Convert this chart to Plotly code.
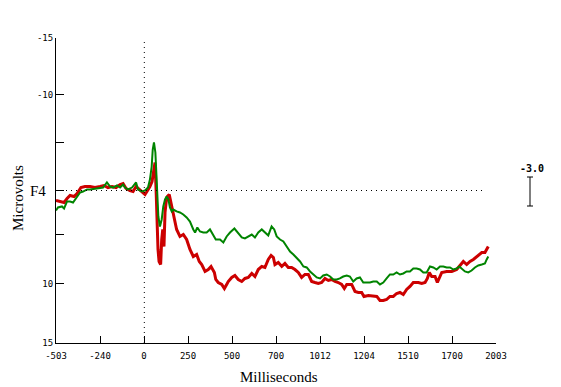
import plotly.graph_objects as go

# ---- data (ms, microvolts; positive is plotted downward) ----
red_ms = [-503, -480, -457, -440, -423, -400, -383, -361, -338, -309, -281, -252, -230, -207, -184, -161,
          -138, -121, -104, -82, -64, -47, -30, -13, 4, 15, 32, 44, 55, 61, 67, 72, 75, 78, 84, 93, 99,
          105, 112, 118, 124, 131, 142, 156, 165, 184, 203, 222, 241, 260, 279, 298, 313, 327, 346, 364,
          380, 399, 407, 421, 441, 456, 469, 478, 498, 516, 535, 555, 573, 592, 612, 630, 649, 669, 687,
          706, 722, 735, 744, 763, 783, 801, 820, 839, 858, 877, 896, 915, 934, 953, 972, 991, 1010, 1029,
          1048, 1067, 1086, 1105, 1124, 1139, 1153, 1181, 1200, 1219, 1238, 1251, 1276, 1304, 1324, 1342,
          1361, 1380, 1399, 1418, 1437, 1456, 1475, 1494, 1513, 1532, 1561, 1580, 1599, 1612, 1623, 1637,
          1656, 1669, 1680, 1694, 1722, 1751, 1779, 1802, 1817, 1836, 1855, 1874, 1893, 1922, 1940, 1950, 1959]
red_uv = [0.98, 1.08, 1.18, 0.79, 0.49, 0.59, 0.29, -0.29, -0.39, -0.39, -0.29, -0.39, -0.49, -0.29, -0.39, -0.29,
          -0.59, -0.69, -0.2, 0.0, 0.1, -0.39, -0.1, 0.2, 0.39, 0.1, -0.39, -0.88, -2.36, -2.75, -0.1, 3.54, 4.82, 5.8, 6.98, 7.28, 4.82,
          3.83, 5.51, 2.16, 1.18, 0.59, 0.39, 1.57, 2.56, 3.83, 4.52, 4.33, 4.82, 5.8, 6.49, 6.29, 6.98, 7.28, 7.96, 7.77,
          7.47, 8.06, 8.75, 9.05, 9.24, 9.64, 9.24, 8.95, 8.55, 8.36, 8.75, 8.95, 8.65, 8.55, 8.16, 8.46, 7.77, 7.47, 7.57,
          6.78, 6.39, 6.59, 7.28, 7.08, 7.47, 7.18, 7.57, 7.57, 7.77, 8.06, 8.55, 8.26, 8.26, 8.95, 9.05, 9.14, 9.05, 8.65,
          8.85, 8.75, 8.95, 9.05, 9.24, 9.64, 9.24, 9.24, 9.93, 10.03, 10.03, 10.42, 10.32, 10.42, 10.42, 10.82,
          10.82, 10.72, 10.42, 10.42, 10.13, 10.03, 10.23, 9.73, 9.44, 9.05, 9.05, 9.14, 9.05, 8.65, 8.06, 8.46,
          8.46, 9.05, 8.55, 8.06, 7.96, 7.96, 7.77, 7.28, 6.98, 7.28, 6.98, 6.78, 6.49, 6.1, 6.1, 5.8, 5.51]

green_ms = [-503, -492, -469, -457, -440, -423, -406, -383, -366, -349, -326, -309, -270, -252, -235, -213,
            -195, -178, -156, -138, -121, -110, -93, -70, -47, -36, -13, 4, 21, 32, 42, 48, 55, 63, 67, 71,
            74, 80, 89, 99, 108, 118, 127, 137, 146, 156, 165, 184, 203, 222, 241, 260, 279, 289, 302, 317,
            336, 355, 374, 393, 407, 431, 450, 469, 488, 513, 532, 555, 573, 592, 612, 630, 649, 669, 687,
            706, 725, 740, 754, 773, 792, 811, 830, 849, 868, 887, 906, 925, 944, 963, 982, 1001, 1019, 1039,
            1058, 1076, 1096, 1114, 1133, 1153, 1171, 1190, 1209, 1228, 1247, 1266, 1285, 1304, 1324, 1342,
            1361, 1380, 1399, 1418, 1437, 1456, 1475, 1494, 1513, 1532, 1551, 1570, 1589, 1608, 1627, 1646,
            1665, 1684, 1703, 1722, 1741, 1760, 1779, 1794, 1808, 1826, 1845, 1864, 1883, 1902, 1922, 1940, 1950, 1959]
green_uv = [1.97, 1.67, 1.57, 1.77, 1.08, 1.08, 1.18, 0.59, 0.2, 0.1, -0.1, -0.1, -0.2, -0.2, -0.29, -0.79,
            -0.39, -0.29, -0.49, -0.29, -0.59, -0.29, -0.1, -0.29, -0.79, -0.1, 0.1, 0.0, -0.29, -1.08, -2.36, -4.03, -4.72, -3.74, -2.06, 0.2,
            1.57, 2.56, 3.54, 2.85, 1.57, 0.88, 0.59, 0.88, 1.67, 2.06, 1.87, 2.06, 2.16, 2.36, 2.65, 3.05, 3.83, 4.13, 3.64, 4.03,
            4.13, 4.13, 3.83, 4.33, 4.82, 4.82, 5.11, 4.52, 4.13, 3.74, 4.13, 4.62, 4.72, 4.52, 4.33, 4.62, 4.13, 3.83, 4.13,
            4.42, 3.54, 3.83, 4.52, 4.82, 5.01, 5.51, 6.0, 6.29, 6.59, 6.98, 7.47, 7.57, 7.96, 8.26, 8.55, 8.65, 8.36, 8.26,
            8.46, 8.75, 8.75, 8.65, 8.46, 8.36, 8.46, 8.95, 8.65, 8.55, 9.05, 9.05, 9.05, 8.95, 8.95, 9.24,
            9.05, 8.65, 8.26, 8.26, 8.06, 8.26, 8.16, 7.96, 7.96, 7.67, 7.67, 7.77, 8.06, 8.06, 7.47, 7.57,
            7.77, 7.47, 7.47, 7.57, 7.57, 7.77, 7.67, 7.47, 7.67, 7.96, 8.06, 7.87, 7.57, 7.37, 7.28, 7.18, 6.78, 6.49]

x_tick_labels = ["-503", "-240", "0", "250", "500", "700", "1012", "1204", "1510", "1700", "2003"]
x_tick_pos = [-503 + i * 250.6 for i in range(len(x_tick_labels))]
y_tick_labels = ["-15", "-10", "", "", "", "10", "15"]
y_tick_pos = [-15, -9.44, -4.72, 0, 4.33, 9.14, 15]

X_RANGE = [-503, 2003]
Y_RANGE = [15, -15]

fig = go.Figure()
fig.add_trace(go.Scatter(x=red_ms, y=red_uv, mode="lines",
                         line=dict(color="#cc0000", width=3), showlegend=False))
fig.add_trace(go.Scatter(x=green_ms, y=green_uv, mode="lines",
                         line=dict(color="#008400", width=2), showlegend=False))

# dotted reference lines
fig.add_shape(type="line", xref="x", yref="y", x0=-503, x1=1940, y0=0, y1=0,
              line=dict(color="black", width=1, dash="1px,4px"))
fig.add_shape(type="line", xref="x", yref="y", x0=0, x1=0, y0=15, y1=-15,
              line=dict(color="black", width=1, dash="1px,4px"))

# scale bar (3 µV)
bx = (530 - 56) / 440
yt = (343 - 177) / 305
yb = (343 - 206) / 305
cap = 3 / 440
fig.add_shape(type="line", xref="paper", yref="paper", x0=bx, x1=bx, y0=yb, y1=yt,
              line=dict(color="black", width=1))
fig.add_shape(type="line", xref="paper", yref="paper", x0=bx - cap, x1=bx + cap, y0=yt, y1=yt,
              line=dict(color="black", width=1))
fig.add_shape(type="line", xref="paper", yref="paper", x0=bx - cap, x1=bx + cap, y0=yb, y1=yb,
              line=dict(color="black", width=1))

mono = "DejaVu Sans Mono"
serif = "Liberation Serif"

fig.add_annotation(text="<b>-3.0</b>", xref="paper", yref="paper", x=(532 - 56) / 440, y=(343 - 168) / 305,
                   showarrow=False, font=dict(family=mono, size=10, color="black"),
                   xanchor="center", yanchor="middle")
fig.add_annotation(text="F4", xref="paper", yref="y", x=-8 / 440, y=0, showarrow=False,
                   font=dict(family=serif, size=15, color="black"), xanchor="right", yanchor="middle")
fig.add_annotation(text="Microvolts", xref="paper", yref="paper", x=-38 / 440, y=(343 - 198) / 305,
                   showarrow=False, textangle=-90, font=dict(family=serif, size=15, color="black"),
                   xanchor="center", yanchor="middle")
fig.add_annotation(text="Milliseconds", xref="paper", yref="paper", x=(279 - 56) / 440, y=-(377 - 343) / 305,
                   showarrow=False, font=dict(family=serif, size=15, color="black"),
                   xanchor="center", yanchor="middle")

fig.update_xaxes(range=X_RANGE, tickmode="array", tickvals=x_tick_pos, ticktext=x_tick_labels,
                 ticks="inside", ticklen=7, tickcolor="black", showline=True, linecolor="black",
                 linewidth=1, showgrid=False, zeroline=False, ticklabelstandoff=4,
                 tickfont=dict(family=mono, size=9, color="black"))
fig.update_yaxes(range=Y_RANGE, tickmode="array", tickvals=y_tick_pos, ticktext=y_tick_labels,
                 ticks="inside", ticklen=8, tickcolor="black", showline=True, linecolor="black",
                 linewidth=1, showgrid=False, zeroline=False,
                 tickfont=dict(family=mono, size=9, color="black"))

fig.update_layout(width=561, height=387, margin=dict(l=56, r=65, t=38, b=44),
                  paper_bgcolor="white", plot_bgcolor="white")

fig.write_html("out.html", config={"displayModeBar": False},
               post_script="document.body.style.margin='0';document.body.style.overflow='hidden';")
